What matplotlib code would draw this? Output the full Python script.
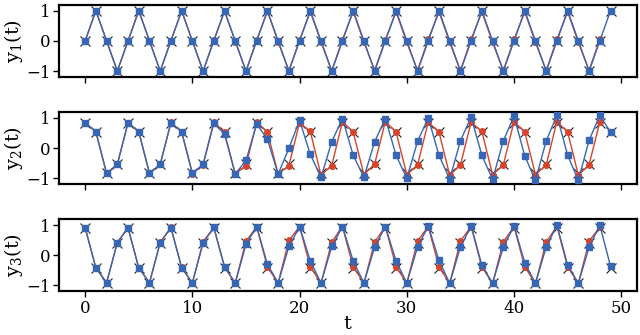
import numpy as np
import matplotlib
matplotlib.use("Agg")
import matplotlib.pyplot as plt

plt.rcParams["font.family"] = "DejaVu Serif"
plt.rcParams["mathtext.fontset"] = "dejavuserif"

t = list(range(50))

# ground truth (black crosses)
y1_true = [0, 1, 0, -1, 0, 1, 0, -1, 0, 1, 0, -1, 0, 1, 0, -1, 0, 1, 0, -1,
           0, 1, 0, -1, 0, 1, 0, -1, 0, 1, 0, -1, 0, 1, 0, -1, 0, 1, 0, -1,
           0, 1, 0, -1, 0, 1, 0, -1, 0, 1]
y2_true = [0.84, 0.54, -0.84, -0.54, 0.84, 0.54, -0.84, -0.54, 0.84, 0.54,
           -0.84, -0.54, 0.84, 0.54, -0.84, -0.54, 0.84, 0.54, -0.84, -0.54,
           0.84, 0.54, -0.84, -0.54, 0.84, 0.54, -0.84, -0.54, 0.84, 0.54,
           -0.84, -0.54, 0.84, 0.54, -0.84, -0.54, 0.84, 0.54, -0.84, -0.54,
           0.84, 0.54, -0.84, -0.54, 0.84, 0.54, -0.84, -0.54, 0.84, 0.54]
y3_true = [0.91, -0.42, -0.91, 0.42, 0.91, -0.42, -0.91, 0.42, 0.91, -0.42,
           -0.91, 0.42, 0.91, -0.42, -0.91, 0.42, 0.91, -0.42, -0.91, 0.42,
           0.91, -0.42, -0.91, 0.42, 0.91, -0.42, -0.91, 0.42, 0.91, -0.42,
           -0.91, 0.42, 0.91, -0.42, -0.91, 0.42, 0.91, -0.42, -0.91, 0.42,
           0.91, -0.42, -0.91, 0.42, 0.91, -0.42, -0.91, 0.42, 0.91, -0.42]

# red model (t = 0..48)
t_red = list(range(49))
y1_red = [0, 1, 0, -1, 0, 1, 0, -1, 0.01, 0.99, -0.01, -1, 0.02, 0.98, -0.02, -1,
          0.03, 0.98, -0.03, -0.99, 0.03, 0.97, -0.04, -0.99, 0.04, 0.97, -0.04,
          -0.98, 0.04, 0.96, -0.05, -0.98, 0.05, 0.96, -0.05, -0.98, 0.05, 0.96,
          -0.05, -0.98, 0.05, 0.96, -0.05, -0.98, 0.05, 0.96, -0.05, -0.98, 0.05]
y2_red = [0.84, 0.54, -0.84, -0.54, 0.84, 0.54, -0.84, -0.54, 0.85, 0.54,
          -0.85, -0.55, 0.87, 0.52, -0.86, -0.58, 0.86, 0.53, -0.86, -0.58,
          0.84, 0.55, -0.9, -0.58, 0.88, 0.53, -0.88, -0.53, 0.88, 0.53,
          -0.88, -0.56, 0.86, 0.53, -0.9, -0.56, 0.86, 0.55, -0.88, -0.56,
          0.88, 0.53, -0.88, -0.56, 0.88, 0.53, -0.9, -0.55, 0.86]
y3_red = [0.91, -0.42, -0.91, 0.42, 0.91, -0.42, -0.91, 0.43, 0.92, -0.40,
          -0.92, 0.45, 0.92, -0.40, -0.92, 0.47, 0.94, -0.39, -0.92, 0.49,
          0.95, -0.39, -0.92, 0.44, 0.95, -0.39, -0.92, 0.44, 0.95, -0.39,
          -0.92, 0.47, 0.95, -0.39, -0.93, 0.47, 0.95, -0.39, -0.93, 0.44,
          0.95, -0.39, -0.93, 0.44, 0.96, -0.39, -0.93, 0.47, 0.93]

# blue model (t = 0..49)
y1_blue = y1_true
y2_blue = [0.84, 0.54, -0.84, -0.54, 0.84, 0.54, -0.84, -0.54, 0.84, 0.54,
           -0.84, -0.54, 0.82, 0.46, -0.86, -0.41, 0.80, 0.29, -0.86, -0.01,
           0.92, -0.21, -0.97, 0.21, 0.98, -0.24, -0.97, 0.21, 0.98, -0.24,
           -1.0, 0.22, 1.0, -0.24, -1.03, 0.24, 1.03, -0.24, -1.04, 0.24,
           1.06, -0.26, -1.07, 0.24, 1.08, -0.24, -1.07, 0.26, 1.08, 0.53]
y3_blue = [0.91, -0.42, -0.91, 0.42, 0.91, -0.42, -0.91, 0.42, 0.91, -0.42,
           -0.91, 0.40, 0.92, -0.38, -0.92, 0.36, 0.95, -0.30, -0.92, 0.29,
           0.95, -0.19, -0.92, 0.29, 0.95, -0.19, -0.92, 0.27, 0.95, -0.19,
           -0.92, 0.27, 0.97, -0.17, -0.93, 0.27, 0.97, -0.33, -0.93, 0.27,
           0.98, -0.25, -0.93, 0.27, 1.0, -0.33, -0.93, 0.27, 1.0, -0.37]

RED = "#d8432b"
BLUE = "#3766b4"

fig, axes = plt.subplots(3, 1, figsize=(6.4, 3.35), dpi=100, sharex=True)
series = [(y1_true, y1_red, y1_blue, r"$\mathrm{y_1(t)}$"),
          (y2_true, y2_red, y2_blue, r"$\mathrm{y_2(t)}$"),
          (y3_true, y3_red, y3_blue, r"$\mathrm{y_3(t)}$")]
for ax, (yt, yr, yb, lab) in zip(axes, series):
    ax.plot(t, yt, ls="none", marker="x", ms=7.5, mew=0.8, color="#222222", zorder=1)
    ax.plot(t_red, yr, color=RED, lw=1.0, marker="o", ms=4, zorder=2)
    ax.plot(t, yb, color=BLUE, lw=1.0, marker="s", ms=4.5, zorder=3)
    ax.set_ylim(-1.2, 1.2)
    ax.set_yticks([-1, 0, 1])
    ax.set_ylabel(lab, fontsize=14)
    ax.yaxis.set_label_coords(-0.058, 0.5)
    ax.tick_params(labelsize=12, length=4, width=1, pad=2)
    for s in ax.spines.values():
        s.set_linewidth(1.6)

axes[-1].set_xticks([0, 10, 20, 30, 40, 50])
axes[-1].set_xlabel("t", fontsize=14, labelpad=-1)
fig.subplots_adjust(left=0.092, right=0.995, top=0.986, bottom=0.13, hspace=0.48)
fig.savefig("out.png", dpi=100)
